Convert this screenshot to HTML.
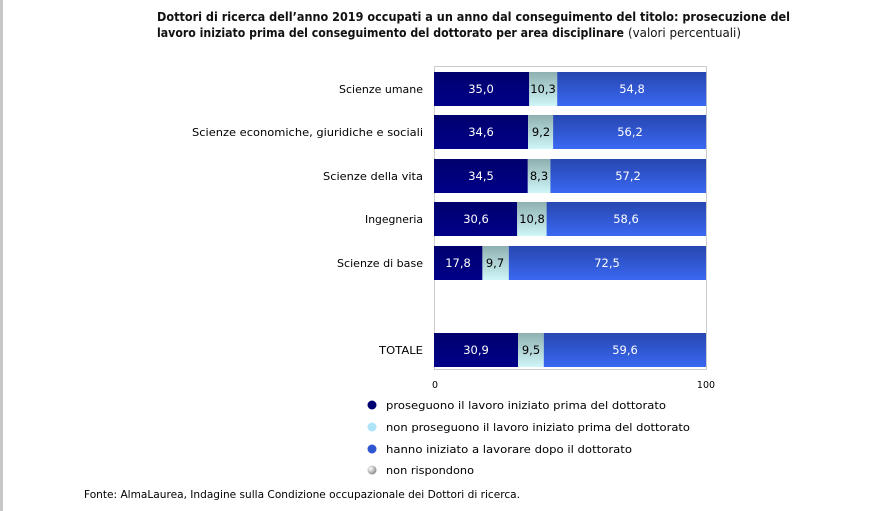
<!DOCTYPE html>
<html><head><meta charset="utf-8"><style>
body{margin:0;background:#fff}
svg{display:block;font-family:"DejaVu Sans","Liberation Sans",sans-serif}
</style></head><body>
<svg width="872" height="511" viewBox="0 0 872 511" xmlns="http://www.w3.org/2000/svg">
<defs>
<linearGradient id="n" x1="0" y1="0" x2="0" y2="1"><stop offset="0" stop-color="#00006e"/><stop offset="1" stop-color="#000088"/></linearGradient>
<linearGradient id="c" x1="0" y1="0" x2="0" y2="1"><stop offset="0" stop-color="#8fb0b0"/><stop offset="1" stop-color="#cff6f8"/></linearGradient>
<linearGradient id="b" x1="0" y1="0" x2="0" y2="1"><stop offset="0" stop-color="#2747b0"/><stop offset="1" stop-color="#3a68f2"/></linearGradient>
<radialGradient id="g1" cx="0.35" cy="0.35" r="0.7"><stop offset="0" stop-color="#fff"/><stop offset="1" stop-color="#888"/></radialGradient>
</defs>
<rect x="0" y="0" width="3" height="511" fill="#c8c8c8"/>
<text x="157" y="21" font-size="12" font-weight="bold" fill="#111" textLength="633" lengthAdjust="spacingAndGlyphs">Dottori di ricerca dell’anno 2019 occupati a un anno dal conseguimento del titolo: prosecuzione del</text>
<text x="157" y="37" font-size="12" font-weight="bold" fill="#111" textLength="467" lengthAdjust="spacingAndGlyphs">lavoro iniziato prima del conseguimento del dottorato per area disciplinare</text>
<text x="628" y="37" font-size="12" fill="#111" textLength="113" lengthAdjust="spacingAndGlyphs">(valori percentuali)</text>
<rect x="434.5" y="66.5" width="272" height="303" fill="none" stroke="#ccc"/>
<g font-size="11" fill="#000">
<g>
<text x="339" y="93" textLength="84" lengthAdjust="spacingAndGlyphs">Scienze umane</text>
<text x="192" y="136" textLength="231" lengthAdjust="spacingAndGlyphs">Scienze economiche, giuridiche e sociali</text>
<text x="323" y="180" textLength="100" lengthAdjust="spacingAndGlyphs">Scienze della vita</text>
<text x="365" y="223" textLength="58" lengthAdjust="spacingAndGlyphs">Ingegneria</text>
<text x="337" y="267" textLength="86" lengthAdjust="spacingAndGlyphs">Scienze di base</text>
<text x="379" y="354" textLength="44" lengthAdjust="spacingAndGlyphs">TOTALE</text>
</g>
<g>
<rect x="434" y="72" width="95.2" height="34" fill="url(#n)"/><rect x="529.2" y="72" width="28" height="34" fill="url(#c)"/><rect x="557.2" y="72" width="149" height="34" fill="url(#b)"/>
<rect x="434" y="115" width="94.1" height="34" fill="url(#n)"/><rect x="528.1" y="115" width="25" height="34" fill="url(#c)"/><rect x="553.1" y="115" width="153" height="34" fill="url(#b)"/>
<rect x="434" y="159" width="93.8" height="34" fill="url(#n)"/><rect x="527.8" y="159" width="22.6" height="34" fill="url(#c)"/><rect x="550.4" y="159" width="155.6" height="34" fill="url(#b)"/>
<rect x="434" y="202" width="83.2" height="34" fill="url(#n)"/><rect x="517.2" y="202" width="29.4" height="34" fill="url(#c)"/><rect x="546.6" y="202" width="159.4" height="34" fill="url(#b)"/>
<rect x="434" y="246" width="48.4" height="34" fill="url(#n)"/><rect x="482.4" y="246" width="26.4" height="34" fill="url(#c)"/><rect x="508.8" y="246" width="197.2" height="34" fill="url(#b)"/>
<rect x="434" y="333" width="84" height="34" fill="url(#n)"/><rect x="518" y="333" width="25.8" height="34" fill="url(#c)"/><rect x="543.8" y="333" width="162.2" height="34" fill="url(#b)"/>
</g>
<g text-anchor="middle" font-size="11.5">
<g fill="#fff"><text x="481" y="93">35,0</text><text x="481" y="136">34,6</text><text x="481" y="180">34,5</text><text x="476" y="223">30,6</text><text x="458" y="267">17,8</text><text x="476" y="354">30,9</text>
<text x="632" y="93">54,8</text><text x="630" y="136">56,2</text><text x="628" y="180">57,2</text><text x="626" y="223">58,6</text><text x="607" y="267">72,5</text><text x="625" y="354">59,6</text></g>
<text x="543" y="93">10,3</text><text x="541" y="136">9,2</text><text x="539" y="180">8,3</text><text x="532" y="223">10,8</text><text x="495" y="267">9,7</text><text x="531" y="354">9,5</text>
</g>
<text x="435" y="388" font-size="9.5" text-anchor="middle">0</text>
<text x="706" y="388" font-size="9.5" text-anchor="middle">100</text>
<circle cx="372" cy="405" r="4.5" fill="#000070"/>
<circle cx="372" cy="427" r="4.5" fill="#aee4f8"/>
<circle cx="372" cy="449" r="4.5" fill="#2f55d0"/>
<circle cx="372" cy="470" r="4.5" fill="url(#g1)"/>
<text x="386" y="409" textLength="280" lengthAdjust="spacingAndGlyphs">proseguono il lavoro iniziato prima del dottorato</text>
<text x="386" y="431" textLength="304" lengthAdjust="spacingAndGlyphs">non proseguono il lavoro iniziato prima del dottorato</text>
<text x="386" y="453" textLength="246" lengthAdjust="spacingAndGlyphs">hanno iniziato a lavorare dopo il dottorato</text>
<text x="386" y="474" textLength="88" lengthAdjust="spacingAndGlyphs">non rispondono</text>
<text x="84" y="498" font-size="10.5" textLength="436" lengthAdjust="spacingAndGlyphs">Fonte: AlmaLaurea, Indagine sulla Condizione occupazionale dei Dottori di ricerca.</text>
</g>
</svg>
</body></html>
